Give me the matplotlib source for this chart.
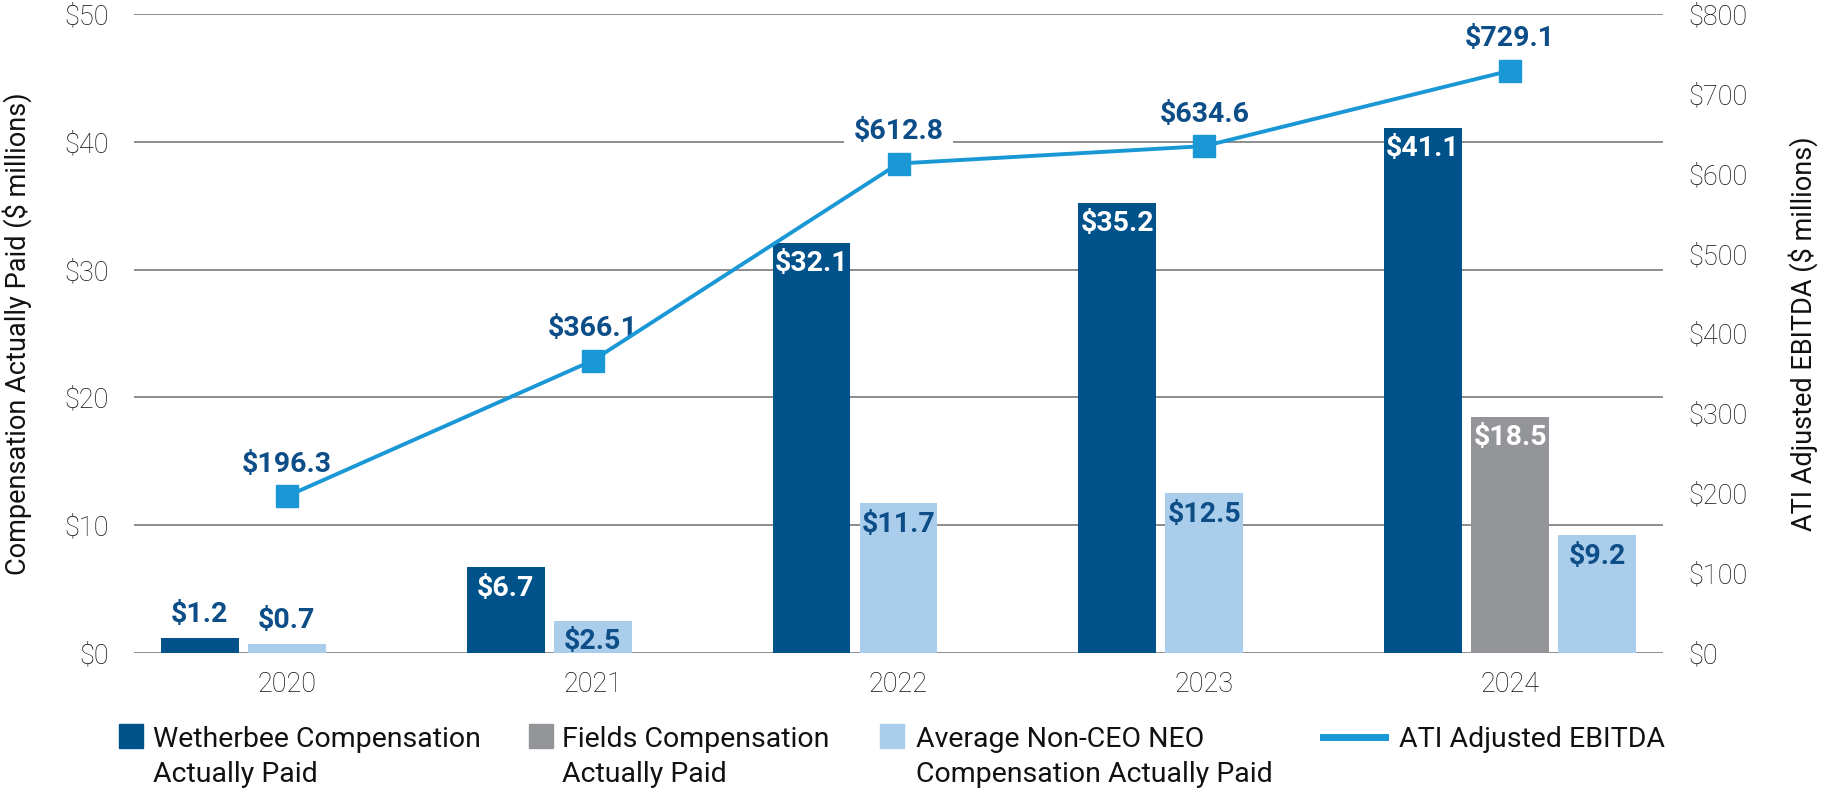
#!/usr/bin/env python3
import numpy as np
import matplotlib
matplotlib.use("Agg")
import matplotlib.pyplot as plt
from matplotlib.patches import Rectangle
from matplotlib.lines import Line2D

plt.rcParams['font.family'] = ['Roboto', 'DejaVu Sans']

# ---------------------------------------------------------------- data
years = ['2020', '2021', '2022', '2023', '2024']
wetherbee = [1.2, 6.7, 32.1, 35.2, 41.1]
fields = [None, None, None, None, 18.5]
avg_neo = [0.7, 2.5, 11.7, 12.5, 9.2]
ebitda = [196.3, 366.1, 612.8, 634.6, 729.1]

left_ticks = [0, 10, 20, 30, 40, 50]
right_ticks = [0, 100, 200, 300, 400, 500, 600, 700, 800]

legend_labels = [['Wetherbee Compensation', 'Actually Paid'],
                 ['Fields Compensation', 'Actually Paid'],
                 ['Average Non-CEO NEO', 'Compensation Actually Paid'],
                 ['ATI Adjusted EBITDA']]

# ---------------------------------------------------------------- style
c_dark = '#00528B'
c_gray = '#939598'
c_light = '#AACDEB'
c_line = '#1A98D5'
c_txt = '#0E4E88'
c_tick = '#111111'
c_grid = '#8C8C8C'

W, H = 1821, 790
fig = plt.figure(figsize=(W / 100, H / 100), dpi=100)
ax = fig.add_axes([134 / W, 1 - 653 / H, (1663 - 134) / W, (653 - 14) / H])

slot = 0.2845
bw = 0.255

series = [(wetherbee, c_dark, 'white'),
          (fields, c_gray, 'white'),
          (avg_neo, c_light, c_txt)]

for i in range(len(years)):
    present = [(s[i], col, tc) for s, col, tc in series if s[i] is not None]
    for k, (v, col, tc) in enumerate(present):
        x = i + (k - 1) * slot
        ax.bar(x, v, width=bw, color=col, zorder=2)
        lab = '$%.1f' % v
        if v < 2:
            ax.annotate(lab, (x, v), xytext=(0, 17), textcoords='offset points',
                        ha='center', va='center', fontsize=20.5, fontweight='bold',
                        color=c_txt, zorder=3)
        else:
            ax.annotate(lab, (x, v), xytext=(0, -15), textcoords='offset points',
                        ha='center', va='center', fontsize=20.5, fontweight='bold',
                        color=tc, zorder=3)

ax.set_xlim(-0.5, len(years) - 0.5)
ax.set_ylim(0, 50)
ax.set_yticks(left_ticks)
ax.set_yticklabels(['$%d' % t for t in left_ticks])
ax.set_xticks(range(len(years)))
ax.set_xticklabels(years)
ax.yaxis.grid(True, color=c_grid, lw=1.4, zorder=0)
ax.set_axisbelow(True)
for s in ax.spines.values():
    s.set_visible(False)
ax.tick_params(axis='both', length=0, labelsize=19.5, labelcolor=c_tick)
ax.tick_params(axis='y', pad=18)
ax.tick_params(axis='x', pad=13)
for t in ax.get_xticklabels() + ax.get_yticklabels():
    t.set_fontweight('light')
ax.set_ylabel('Compensation Actually Paid ($ millions)', fontsize=19.5,
              color=c_tick)
ax.yaxis.set_label_coords(-0.0667, 0.5)

# ---------------------------------------------------------------- line
ax2 = ax.twinx()
ax2.plot(range(len(years)), ebitda, color=c_line, lw=2.8, marker='s',
         markersize=15.5, zorder=4)
for i, v in enumerate(ebitda):
    ax2.annotate('$%.1f' % v, (i, v), xytext=(0, 23), textcoords='offset points',
                 ha='center', va='center', fontsize=20.5, fontweight='bold',
                 color=c_txt, zorder=3,
                 bbox=dict(facecolor='white', edgecolor='none', pad=7))
ax2.set_ylim(0, 800)
ax2.set_yticks(right_ticks)
ax2.set_yticklabels(['$%d' % t for t in right_ticks])
for s in ax2.spines.values():
    s.set_visible(False)
ax2.tick_params(axis='y', length=0, labelsize=19.5, labelcolor=c_tick, pad=18)
for t in ax2.get_yticklabels():
    t.set_fontweight('light')
ax2.set_ylabel('ATI Adjusted EBITDA ($ millions)', fontsize=19.5,
               color=c_tick, rotation=90)
ax2.yaxis.set_label_coords(1.0817, 0.5)

# ---------------------------------------------------------------- legend
lax = fig.add_axes([0, 0, 1, 1], zorder=-1)
lax.set_xlim(0, W)
lax.set_ylim(H, 0)
lax.axis('off')

patch_x = [119, 529, 880]
text_x = [153, 562, 916, 1399]
colors = [c_dark, c_gray, c_light]
for px, col in zip(patch_x, colors):
    lax.add_patch(Rectangle((px, 724), 24, 24, color=col))
lax.add_line(Line2D([1323, 1385], [737, 737], color=c_line, lw=5))
for tx, lines in zip(text_x, legend_labels):
    for j, line in enumerate(lines):
        lax.text(tx, 747 + 35 * j, line, fontsize=20.5, color=c_tick,
                 ha='left', va='baseline')

fig.savefig('out.png', dpi=100)
